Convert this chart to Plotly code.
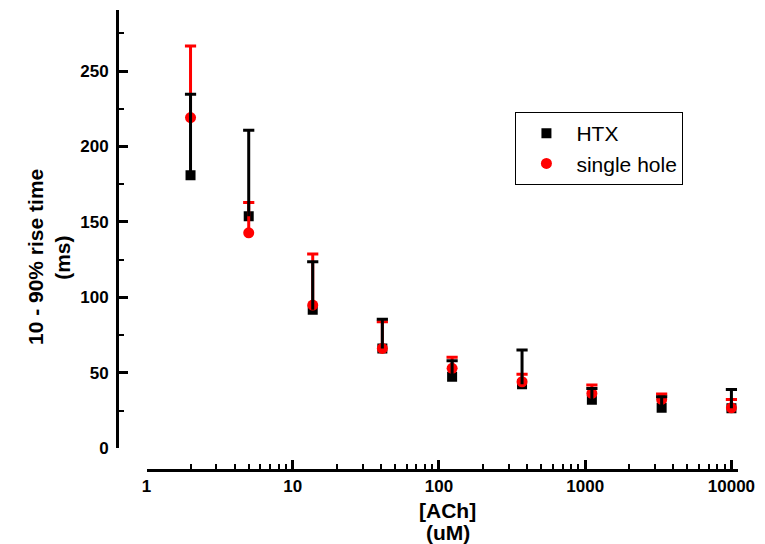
import plotly.graph_objects as go

# ---- data ----
ach_uM = [2, 5, 13.7, 41, 123, 370, 1111, 3333, 10000]
htx_ms = [181, 153.8, 91.9, 66.2, 47.4, 42.4, 32.2, 26.9, 26.5]
htx_err_plus = [53.6, 57.0, 31.7, 19.4, 10.6, 22.7, 7.5, 7.3, 12.5]
single_ms = [219.2, 142.8, 94.9, 66.2, 53.0, 44.1, 36.4, 32.4, 26.8]
single_err_plus = [47.4, 20.1, 33.8, 17.6, 7.3, 4.9, 5.5, 3.6, 5.5]

x_tickvals = [1, 10, 100, 1000, 10000]
x_ticktext = ["1", "10", "100", "1000", "10000"]
x_minor_tickvals = [2, 3, 4, 5, 6, 7, 8, 9,
                    20, 30, 40, 50, 60, 70, 80, 90,
                    200, 300, 400, 500, 600, 700, 800, 900,
                    2000, 3000, 4000, 5000, 6000, 7000, 8000, 9000]
y_tickvals = [0, 50, 100, 150, 200, 250]
y_ticktext = ["0", "50", "100", "150", "200", "250"]
y_minor_tickvals = [25, 75, 125, 175, 225, 275]

series_names = ["HTX", "single hole"]
x_title_lines = ["[ACh]", "(uM)"]
y_title_lines = ["10 - 90% rise time", "(ms)"]

# ---- layout geometry (pixels) ----
W, H = 765, 544
L, R, T, B = 117, 23, 10, 74
PW, PH = W - L - R, H - T - B

def px_x(p):
    return (p - L) / PW

def px_y(p):
    return 1 - (p - T) / PH

FONT = "Liberation Sans, Arial, sans-serif"
BLACK = "#000000"
RED = "#FF0000"

fig = go.Figure()

# markers (legend entries)
fig.add_trace(go.Scatter(
    x=ach_uM, y=htx_ms, mode="markers", name=series_names[0],
    marker=dict(symbol="square", size=10, color=BLACK, line=dict(width=0)),
))
fig.add_trace(go.Scatter(
    x=ach_uM, y=single_ms, mode="markers", name=series_names[1],
    marker=dict(symbol="circle", size=11, color=RED, line=dict(width=0)),
))

# error bars (upper only) drawn on top: stem + cap
def add_err(vals, errs, color):
    tops = [v + e for v, e in zip(vals, errs)]
    fig.add_trace(go.Scatter(
        x=ach_uM, y=tops, mode="markers", showlegend=False, hoverinfo="skip",
        marker=dict(symbol="line-ew", size=8, color=color,
                    line=dict(width=3, color=color)),
        error_y=dict(type="data", symmetric=False, array=[0] * len(errs),
                     arrayminus=errs, width=0, thickness=3, color=color),
    ))

add_err(single_ms, single_err_plus, RED)
add_err(htx_ms, htx_err_plus, BLACK)

# axis titles as annotations (one per line)
title_font = dict(family=FONT, size=21, color=BLACK, weight="bold")
for txt, cx in zip(y_title_lines, [35, 62]):
    fig.add_annotation(
        text=txt, xref="paper", yref="paper",
        x=px_x(cx), y=px_y(257.5), textangle=-90, showarrow=False,
        xanchor="center", yanchor="middle", font=title_font,
    )
for txt, cy in zip(x_title_lines, [510, 532]):
    fig.add_annotation(
        text=txt, xref="paper", yref="paper",
        x=px_x(450), y=px_y(cy), showarrow=False,
        xanchor="center", yanchor="middle", font=title_font,
    )

x_dom0 = (146.7 - L) / PW
y_dom0 = (470 - 448.3) / PH

tick_font = dict(family=FONT, size=17, color=BLACK, weight="bold")

fig.update_layout(
    width=W, height=H,
    margin=dict(l=L, r=R, t=T, b=B, pad=0),
    paper_bgcolor="white", plot_bgcolor="white",
    font=dict(family=FONT, color=BLACK),
    showlegend=True,
    legend=dict(
        x=px_x(518), y=px_y(112), xanchor="left", yanchor="top",
        bgcolor="white", bordercolor=BLACK, borderwidth=1,
        font=dict(family=FONT, size=21, color=BLACK),
        itemwidth=50, tracegroupgap=0,
    ),
    xaxis=dict(
        type="log", range=[0, 4.045], domain=[x_dom0, 1],
        anchor="free", position=0,
        showline=True, linecolor=BLACK, linewidth=3,
        showgrid=False, zeroline=False,
        ticks="inside", ticklen=9, tickwidth=3, tickcolor=BLACK,
        tickvals=x_tickvals, ticktext=x_ticktext,
        tickfont=tick_font,
        minor=dict(ticks="inside", ticklen=5, tickwidth=2, tickcolor=BLACK,
                   tickmode="array", tickvals=x_minor_tickvals,
                   showgrid=False),
    ),
    yaxis=dict(
        range=[0, 290.5], domain=[y_dom0, 1],
        anchor="free", position=0,
        showline=True, linecolor=BLACK, linewidth=3,
        showgrid=False, zeroline=False,
        ticks="inside", ticklen=9, tickwidth=3, tickcolor=BLACK,
        tickvals=y_tickvals, ticktext=y_ticktext,
        tickfont=tick_font, ticklabelstandoff=4,
        minor=dict(ticks="inside", ticklen=5, tickwidth=2, tickcolor=BLACK,
                   tickmode="array", tickvals=y_minor_tickvals,
                   showgrid=False),
    ),
)

fig.write_html("out.html")
